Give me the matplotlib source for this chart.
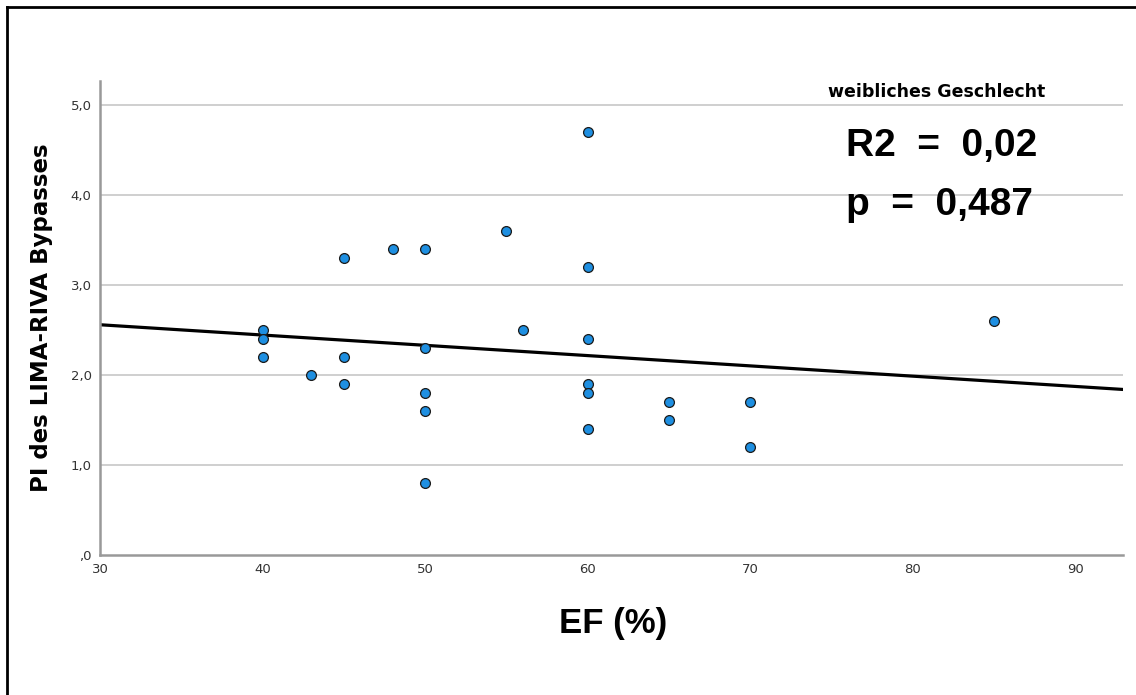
import matplotlib
matplotlib.use("Agg")
import matplotlib.pyplot as plt
from matplotlib.lines import Line2D

# EF (%) und PI des LIMA-RIVA Bypasses (weibliches Geschlecht)
ef = [40, 40, 40, 43, 45, 45, 45, 48, 50, 50, 50, 50, 50,
      55, 56, 60, 60, 60, 60, 60, 60, 65, 65, 70, 70, 85]
pi = [2.5, 2.4, 2.2, 2.0, 3.3, 2.2, 1.9, 3.4, 3.4, 2.3, 1.8, 1.6, 0.8,
      3.6, 2.5, 4.7, 3.2, 2.4, 1.9, 1.8, 1.4, 1.7, 1.5, 1.7, 1.2, 2.6]

# Regressionsgerade
fit_x = [30, 93]
fit_y = [2.56, 1.84]

x_ticks = [30, 40, 50, 60, 70, 80, 90]
y_ticks = [0, 1, 2, 3, 4, 5]
y_ticklabels = [",0", "1,0", "2,0", "3,0", "4,0", "5,0"]

plt.rcParams['font.family'] = ['DejaVu Sans']

W, H = 1136, 695
fig = plt.figure(figsize=(W / 100, H / 100), dpi=100)
ax = fig.add_axes([100 / W, 1 - 555 / H, 1023 / W, 474 / H])

# Rahmen oben und links
fig.add_artist(Line2D([7 / W, 7 / W], [0, 1 - 7 / H], color="black", lw=2,
                      transform=fig.transFigure))
fig.add_artist(Line2D([7 / W, 1], [1 - 7 / H, 1 - 7 / H], color="black", lw=2,
                      transform=fig.transFigure))

ax.set_xlim(30, 92.95)
ax.set_ylim(0, 5.27)

for yv in y_ticks[1:]:
    ax.axhline(yv, color="#cccccc", lw=1.3, zorder=0)

ax.plot(fit_x, fit_y, color="black", lw=2.3, zorder=2)
ax.scatter(ef, pi, s=50, color="#1e8fe1", edgecolor="#1a1a1a", linewidth=0.9, zorder=3)

ax.set_xticks(x_ticks)
ax.set_yticks(y_ticks)
ax.set_yticklabels(y_ticklabels)
ax.tick_params(length=0, labelsize=9.5, colors="#333333", pad=6)

for s in ["top", "right"]:
    ax.spines[s].set_visible(False)
for s in ["left", "bottom"]:
    ax.spines[s].set_color("#999999")
    ax.spines[s].set_linewidth(1.8)

fig.text(613 / W, 1 - 633 / H, "EF (%)", family="Liberation Sans", fontsize=25,
         fontweight="bold", ha="center", va="baseline")
ax.set_ylabel("PI des LIMA-RIVA Bypasses", fontsize=16.5, fontweight="bold", labelpad=13)

fig.text(828 / W, 1 - 97 / H, "weibliches Geschlecht", fontsize=12.5,
         fontweight="bold", ha="left", va="baseline")
fig.text(846 / W, 1 - 156 / H, "R2  =  0,02", family="Liberation Sans", fontsize=28,
         fontweight="bold", ha="left", va="baseline")
fig.text(846 / W, 1 - 215 / H, "p  =  0,487", family="Liberation Sans", fontsize=28,
         fontweight="bold", ha="left", va="baseline")

fig.savefig("out.png", dpi=100)
